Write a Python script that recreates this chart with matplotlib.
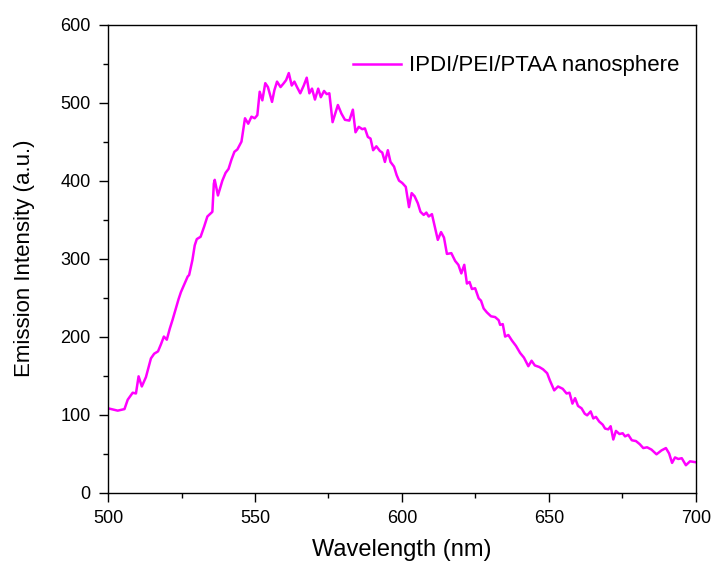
import matplotlib
matplotlib.use("Agg")
import matplotlib.pyplot as plt
from matplotlib.ticker import MultipleLocator

plt.rcParams["font.family"] = ["Liberation Sans", "DejaVu Sans"]

# Emission spectrum of the IPDI/PEI/PTAA nanospheres
wavelength = [
    500.0, 503.3, 505.6, 506.7, 508.4, 509.5, 510.4, 511.5, 512.9, 514.6,
    515.7, 517.0, 518.0, 519.0, 520.0, 521.0, 522.0, 523.0, 524.0, 524.8,
    527.1, 527.6, 528.7, 529.5, 530.2, 531.5, 532.7, 533.8, 535.5, 536.0,
    536.3, 537.4, 538.9, 540.0, 541.0, 542.0, 543.0, 544.0, 545.4, 546.6,
    547.7, 548.8, 549.9, 550.8, 551.6, 552.5, 553.5, 554.4, 555.8, 556.6,
    557.5, 558.7, 559.8, 560.6, 561.5, 562.5, 563.4, 564.3, 565.4, 566.6,
    567.6, 568.5, 569.4, 570.4, 571.5, 572.4, 573.5, 574.4, 575.3, 576.4,
    578.2, 579.4, 580.6, 582.1, 583.3, 584.2, 585.3, 586.5, 587.4, 588.4,
    589.3, 590.2, 591.3, 592.5, 593.3, 594.2, 595.2, 596.1, 597.3, 598.2,
    599.0, 600.1, 601.3, 602.4, 603.3, 604.3, 605.4, 606.3, 607.4, 608.3,
    609.1, 610.2, 611.3, 612.2, 613.3, 614.3, 615.3, 616.8, 618.1, 619.2,
    620.2, 621.2, 622.1, 623.0, 623.8, 624.9, 626.1, 626.9, 627.8, 628.9,
    630.3, 631.7, 632.9, 633.4, 634.3, 635.1, 636.2, 637.4, 638.8, 640.2,
    641.5, 643.0, 644.1, 645.2, 646.7, 648.0, 649.4, 650.3, 651.8, 653.1,
    654.7, 656.0, 657.0, 658.0, 658.9, 659.9, 661.1, 662.2, 663.0, 664.2,
    665.1, 666.0, 667.1, 668.3, 669.1, 670.2, 671.0, 671.9, 672.8, 674.0,
    675.1, 675.9, 677.0, 678.2, 679.6, 680.9, 682.1, 683.4, 684.9, 686.6,
    688.3, 689.8, 690.9, 691.9, 692.9, 694.0, 695.2, 696.6, 698.0, 699.7,
]
intensity = [
    108, 105, 107, 119, 128, 127, 149, 136, 148, 172,
    178, 181, 190, 200, 196, 210, 222, 235, 248, 257,
    277, 279, 298, 317, 325, 328, 341, 354, 360, 396,
    401, 381, 400, 410, 415, 427, 437, 440, 450, 480,
    473, 482, 480, 484, 514, 503, 525, 520, 501, 516,
    527, 520, 525, 529, 538, 522, 527, 520, 512, 522,
    532, 512, 518, 504, 518, 507, 515, 511, 512, 475,
    497, 486, 478, 477, 491, 462, 469, 466, 467, 456,
    454, 439, 444, 438, 436, 424, 439, 424, 418, 407,
    400, 397, 392, 366, 384, 380, 371, 360, 356, 359,
    354, 357, 339, 324, 334, 327, 306, 307, 297, 292,
    281, 292, 268, 270, 261, 262, 249, 246, 236, 231,
    226, 225, 221, 215, 216, 200, 202, 195, 188, 179,
    173, 162, 169, 163, 161, 158, 153, 144, 131, 136,
    133, 127, 128, 114, 121, 111, 108, 101, 99, 104,
    95, 97, 91, 87, 82, 81, 85, 68, 79, 75,
    76, 72, 74, 67, 66, 62, 57, 58, 55, 49,
    54, 57, 50, 38, 45, 43, 44, 35, 40, 39,
]
series_label = "IPDI/PEI/PTAA nanosphere"

fig = plt.figure(figsize=(7.13, 5.65), dpi=100)
ax = fig.add_axes([0.1515, 0.1283, 0.8245, 0.828])

ax.plot(wavelength, intensity, color="#ff00ff", lw=1.8, label=series_label)

ax.set_xlim(500, 700)
ax.set_ylim(0, 600)
ax.xaxis.set_major_locator(MultipleLocator(50))
ax.xaxis.set_minor_locator(MultipleLocator(25))
ax.yaxis.set_major_locator(MultipleLocator(100))
ax.yaxis.set_minor_locator(MultipleLocator(50))
ax.tick_params(which="major", direction="out", length=6.5, width=1.0,
               labelsize=13, pad=6, top=False, right=False)
ax.tick_params(which="minor", direction="out", length=3.5, width=1.0,
               top=False, right=False)
for side in ax.spines.values():
    side.set_linewidth(1.0)

ax.set_xlabel("Wavelength (nm)", fontsize=17, labelpad=9)
ax.set_ylabel("Emission Intensity (a.u.)", fontsize=16, labelpad=18)

ax.legend(loc="center left", bbox_to_anchor=(0.416, 0.912), frameon=False,
          fontsize=16, handlelength=2.2, handletextpad=0.35,
          borderpad=0, borderaxespad=0)

fig.savefig("out.png", dpi=100)
